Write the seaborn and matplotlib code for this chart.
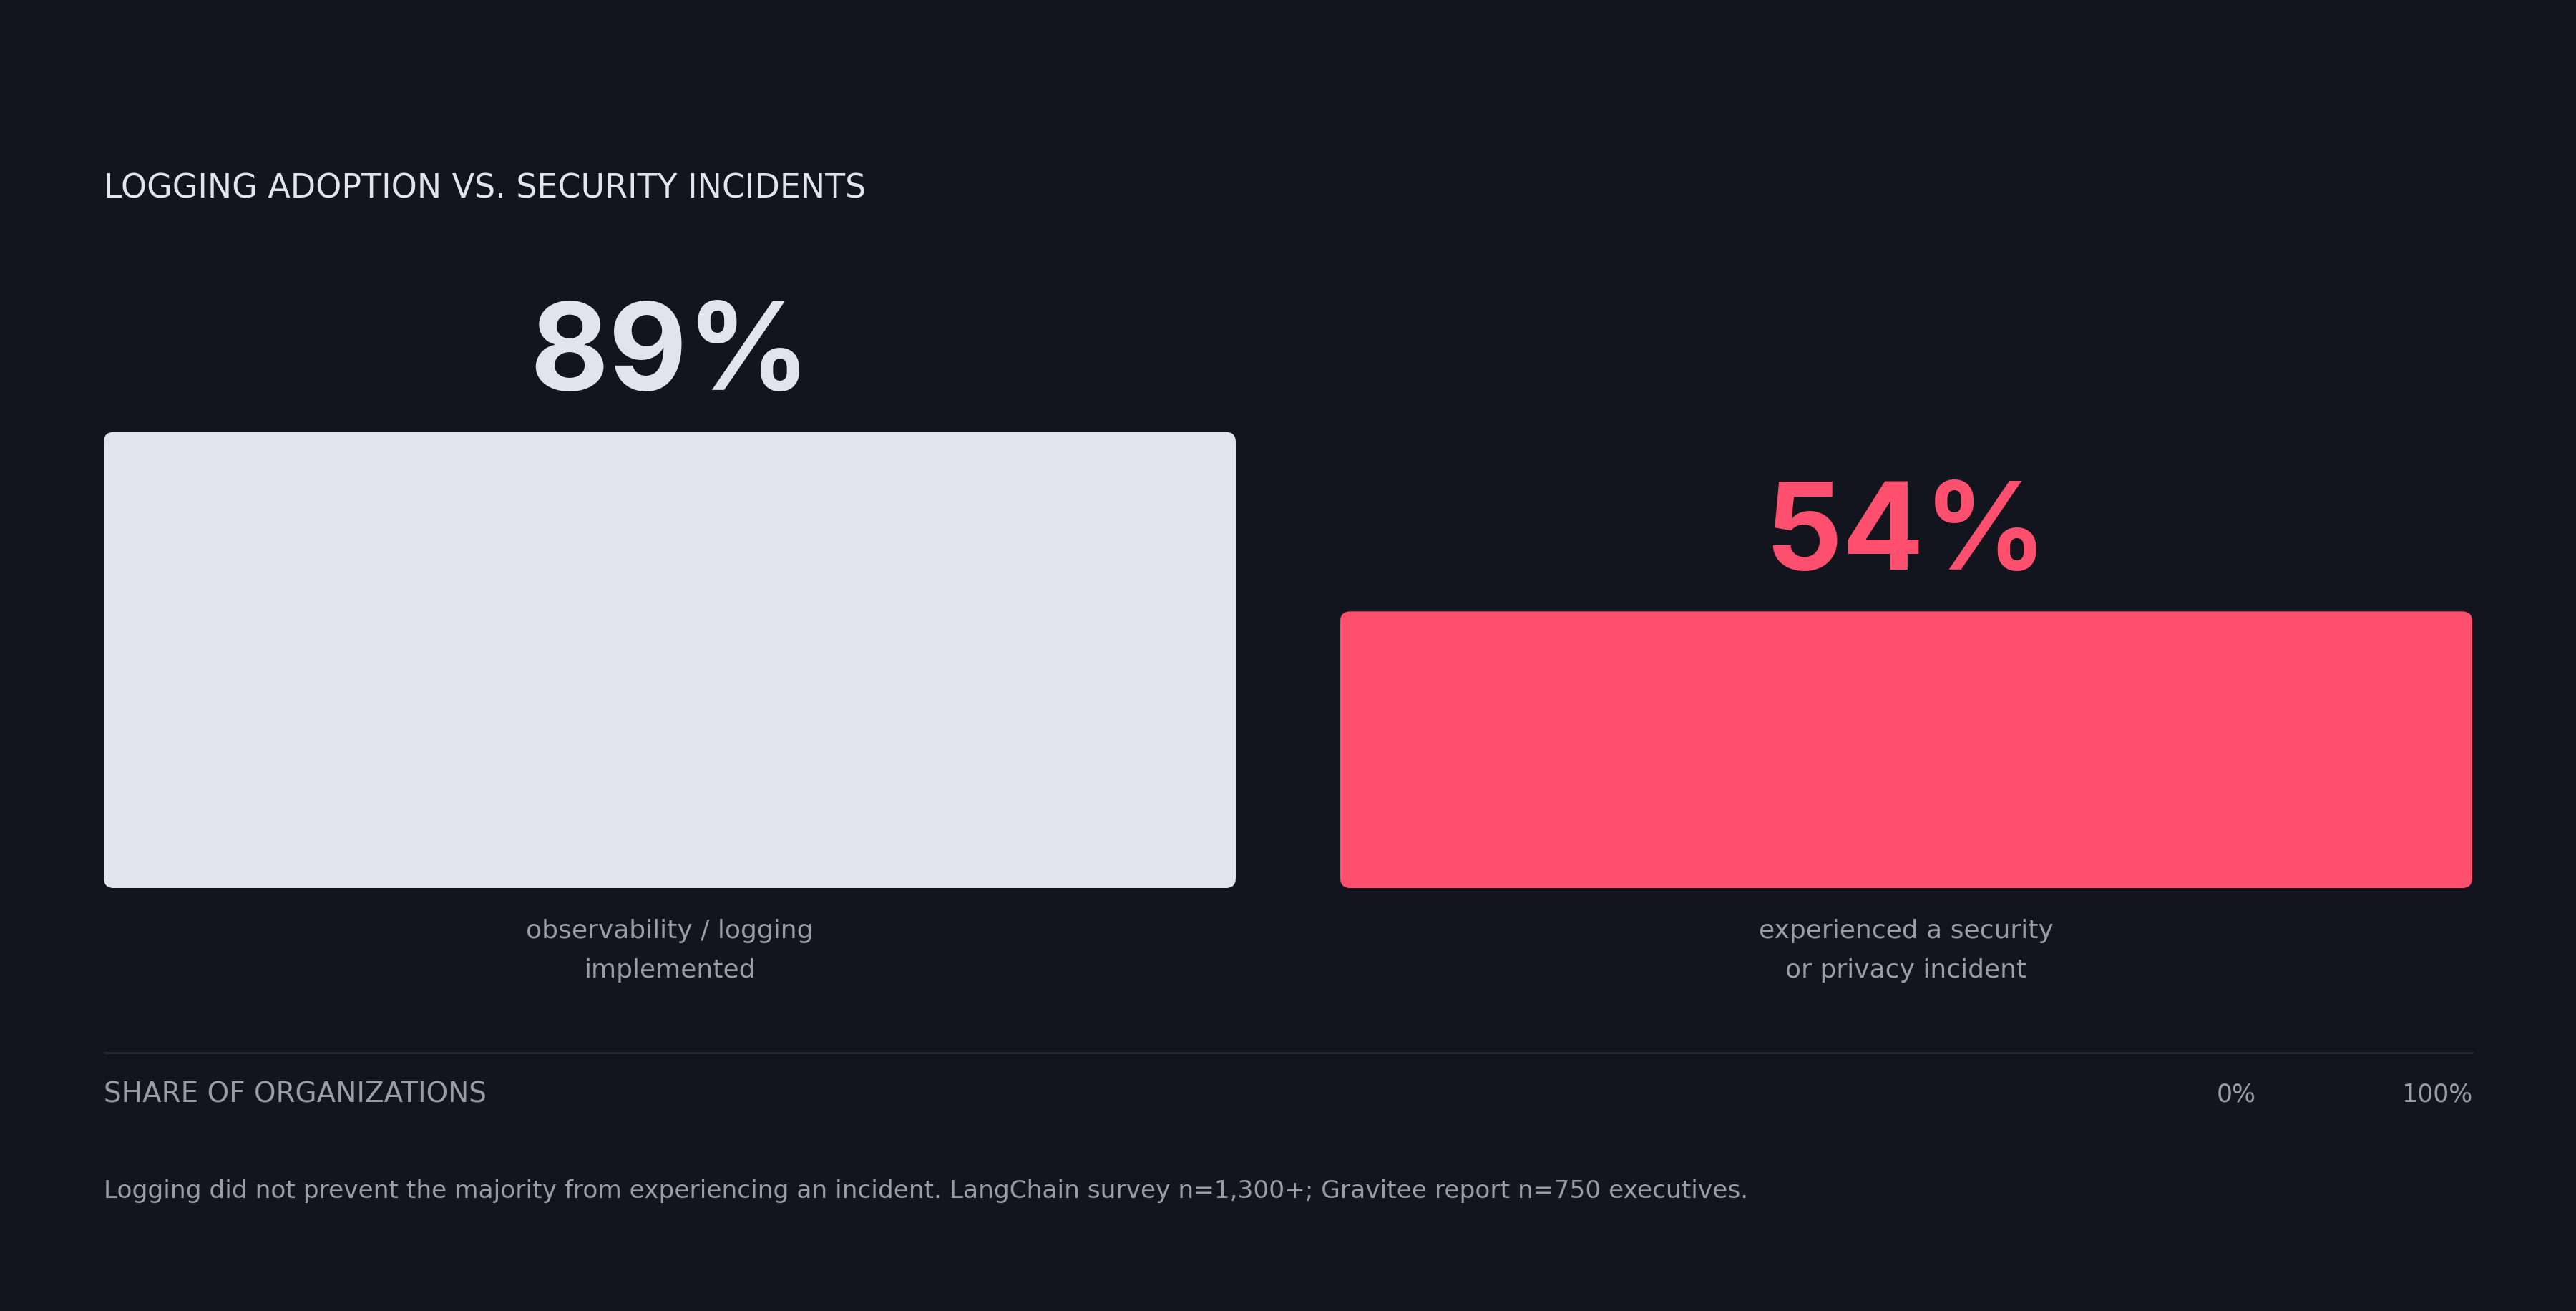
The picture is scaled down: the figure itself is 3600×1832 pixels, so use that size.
import matplotlib
matplotlib.use("Agg")
import matplotlib.pyplot as plt
from matplotlib.patches import FancyBboxPatch
from matplotlib.lines import Line2D
import seaborn as sns
import pandas as pd

# ---- data ----
categories = ["observability / logging\nimplemented", "experienced a security\nor privacy incident"]
values = [89, 54]
value_labels = ["89%", "54%"]
bar_colors = ["#e1e3ef", "#ff4f6e"]
title = "LOGGING ADOPTION VS. SECURITY INCIDENTS"
axis_caption = "SHARE OF ORGANIZATIONS"
scale_labels = ["0%", "100%"]
footnote = ("Logging did not prevent the majority from experiencing an incident. "
            "LangChain survey n=1,300+; Gravitee report n=750 executives.")

BG = "#12151d"
FG = "#e1e3ef"
GREY = "#9a9ca8"

sns.set_theme(style="dark")
plt.rcParams["font.family"] = ["DejaVu Sans"]

df = pd.DataFrame({"category": categories, "value": values})

fig = plt.figure(figsize=(18, 9.165), dpi=200, facecolor=BG)
ax = fig.add_axes([145/3600, 0.3224, 3310/3600, 0.3907])
ax.set_facecolor(BG)

bar_w = 1582/1728
sns.barplot(data=df, x="category", y="value", hue="category", palette=bar_colors,
            width=bar_w, legend=False, ax=ax, saturation=1)

ax.set_xlim(-bar_w/2, 1 + bar_w/2)
ax.set_ylim(0, 100)

# rounded bars
fig.canvas.draw()
x0d, y0d = ax.transData.transform((0, 0))
x1d, y1d = ax.transData.transform((1, 1))
px_per_x = x1d - x0d
px_per_y = y1d - y0d
r_px = 14
for patch, col in zip(list(ax.patches), bar_colors):
    x, y = patch.get_x(), patch.get_y()
    w, h = patch.get_width(), patch.get_height()
    patch.set_visible(False)
    fb = FancyBboxPatch((x, y), w, h,
                        boxstyle=f"round,pad=0,rounding_size={r_px/px_per_x}",
                        mutation_aspect=px_per_x/px_per_y,
                        facecolor=col, edgecolor="none", zorder=3)
    ax.add_patch(fb)

for i, (v, lab, col) in enumerate(zip(values, value_labels, bar_colors)):
    ax.annotate(lab, xy=(i, v), xytext=(0, 21.5), textcoords="offset points",
                ha="center", va="baseline", fontsize=61, fontweight="bold",
                color=col, family=["Inter", "DejaVu Sans"])

for s in ax.spines.values():
    s.set_visible(False)
ax.set_yticks([])
ax.set_xlabel("")
ax.set_ylabel("")
ax.tick_params(axis="x", length=0, pad=15, labelsize=13, labelcolor=GREY)
for t in ax.get_xticklabels():
    t.set_linespacing(1.8)
ax.grid(False)

# title
fig.text(145/3600, 0.856, title, ha="left", va="center", fontsize=16.5, color=FG)

# separator line
fig.add_artist(Line2D([145/3600, 3455/3600], [0.197, 0.197], color="#2b2e38", lw=0.9))

fig.text(145/3600, 0.1658, axis_caption, ha="left", va="center", fontsize=14, color=GREY)
fig.text(0.868, 0.1658, scale_labels[0], ha="center", va="center", fontsize=12.5, color=GREY)
fig.text(3455/3600, 0.1658, scale_labels[1], ha="right", va="center", fontsize=12.5, color=GREY)

fig.text(145/3600, 0.0917, footnote, ha="left", va="center", fontsize=12.4, color=GREY)

fig.savefig("out.png", dpi=200, facecolor=BG)
